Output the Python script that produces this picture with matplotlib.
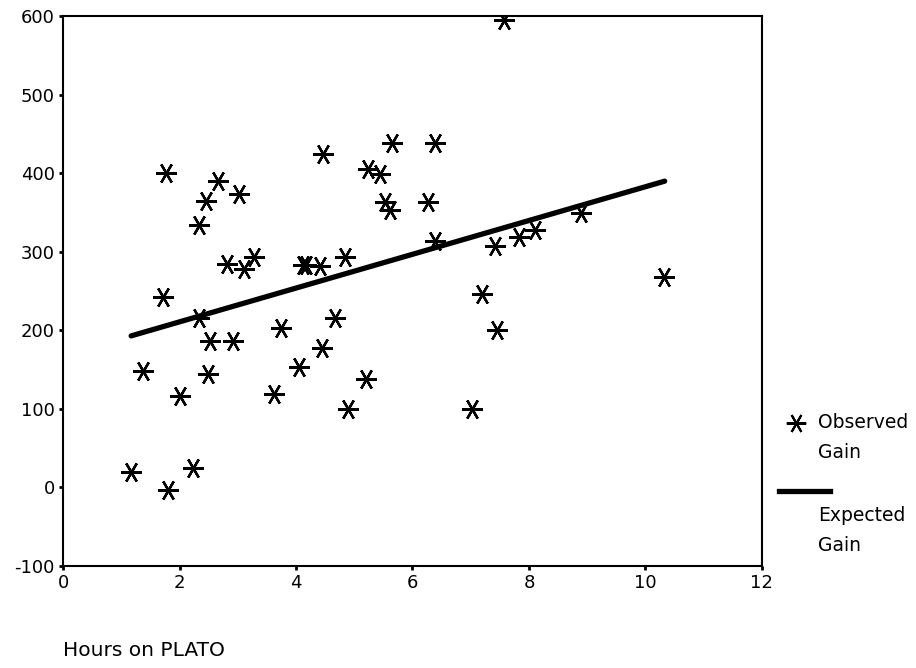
import matplotlib
matplotlib.use("Agg")
import matplotlib.pyplot as plt
from matplotlib.lines import Line2D

plt.rcParams['font.family'] = ['DejaVu Sans']
plt.rcParams['axes.unicode_minus'] = False

# DONNEES ##############################################################################################################
# Heures sur PLATO (x) et gain observe (y)
hours = [1.17, 1.37, 1.72, 1.77, 1.80, 2.01, 2.23, 2.33, 2.45, 2.66, 3.02, 2.34, 2.52, 2.91, 2.49,
         2.82, 3.11, 3.28, 3.63, 3.74, 4.05, 4.12, 4.17, 4.41, 4.84, 4.47, 5.24, 5.44, 5.64, 6.39,
         5.52, 5.61, 6.26, 6.39, 7.58, 7.42, 7.83, 8.10, 8.90, 7.19, 7.45, 7.03, 4.67, 4.45, 5.21,
         4.90, 10.32]
observed_gain = [20, 148, 243, 400, -3, 116, 25, 334, 365, 390, 374, 216, 186, 186, 145,
                 284, 278, 294, 119, 203, 153, 283, 283, 282, 293, 424, 405, 399, 439, 439,
                 363, 353, 364, 314, 595, 308, 319, 328, 349, 246, 200, 100, 216, 178, 138,
                 100, 268]

# Droite du gain attendu
expected_x = [1.17, 10.33]
expected_gain = [193, 390]

x_ticks = [0, 2, 4, 6, 8, 10, 12]
y_ticks = [-100, 0, 100, 200, 300, 400, 500, 600]

# FIGURE ###############################################################################################################
fig = plt.figure(figsize=(9.16, 6.68), dpi=100)
ax = fig.add_axes([0.0688, 0.1527, 0.763, 0.823])

star = (6, 2, 90)
ax.plot(hours, observed_gain, linestyle='none', marker=star, markersize=15,
        markeredgewidth=1.7, color='black')
ax.plot(expected_x, expected_gain, color='black', linewidth=3.8, solid_capstyle='round')

ax.set_xlim(0, 12)
ax.set_ylim(-100, 600)
ax.set_xticks(x_ticks)
ax.set_yticks(y_ticks)
ax.tick_params(direction='out', length=3, width=2, labelsize=13, pad=3)
for s in ax.spines.values():
    s.set_linewidth(1.5)

fig.text(0.0688, 0.012, "Hours on PLATO", fontsize=14.5, ha='left', va='bottom')

# Legende a droite (dessinee a la main, comme l'original)
fig.add_artist(Line2D([0.869], [0.367], linestyle='none', marker=star, markersize=14,
                      markeredgewidth=1.5, color='black', transform=fig.transFigure))
fig.add_artist(Line2D([0.850, 0.906], [0.265, 0.265], color='black', linewidth=3.8,
                      transform=fig.transFigure))
legend_rows = [("Observed", 0.367), ("Gain", 0.322), ("Expected", 0.229), ("Gain", 0.183)]
for txt, yy in legend_rows:
    fig.text(0.893, yy, txt, fontsize=13.5, ha='left', va='center')

fig.savefig("out.png", dpi=100)
